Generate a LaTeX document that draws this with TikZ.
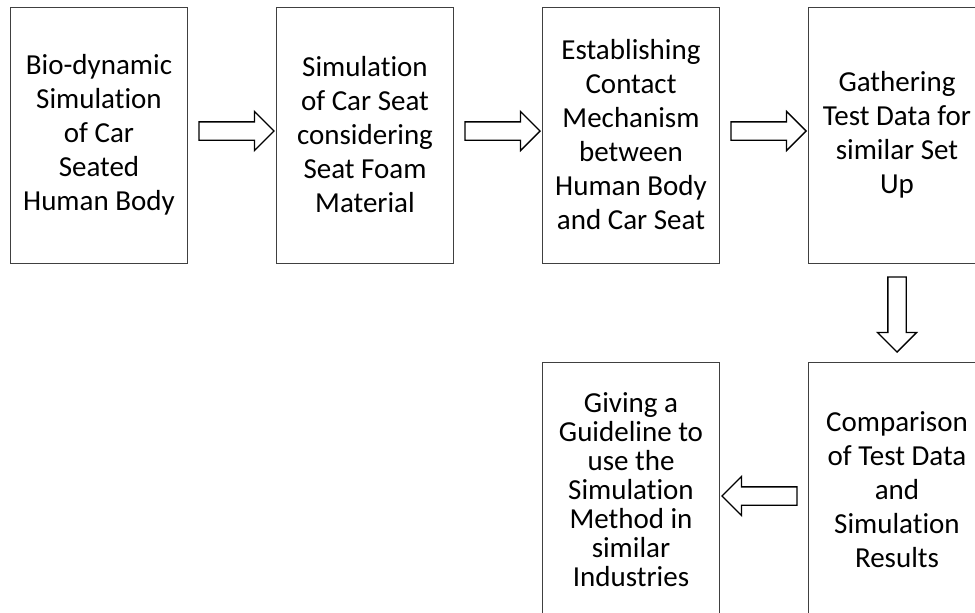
\documentclass[tikz,border=0pt]{standalone}
\usepackage{fontspec}
\setmainfont[Ligatures=NoCommon]{Carlito}
\usepackage{tikz}
\usetikzlibrary{positioning}
\usetikzlibrary{shapes.arrows}
\usetikzlibrary{calc}
\definecolor{frame}{gray}{0.25}
\tikzstyle{base}=[inner sep=0pt, outer sep=0pt]
\tikzstyle{stage}=[draw=frame, line width=0.9pt, minimum width=177pt, minimum height=256pt, align=center, font=\fontsize{29}{34}\selectfont]
\tikzstyle{flow}=[draw=black, line width=1.3pt, single arrow, single arrow head extend=10.5pt, minimum height=75pt, inner xsep=0pt, inner ysep=8.5pt]

\begin{document}
\begin{tikzpicture}[base, x=1pt, y=1pt]
    \path [use as bounding box] (0,0) rectangle (975,-613);
    \clip (0,0) rectangle (975,-613);
        % top row
        \node [stage] (bio) at (99,-135) {Bio-dynamic\\Simulation\\of Car\\Seated\\Human Body};
        \node [stage, right=89pt of bio] (seat) {Simulation\\of Car Seat\\considering\\Seat Foam\\Material};
        \node [stage, right=89pt of seat] (contact) {Establishing\\Contact\\Mechanism\\between\\Human Body\\and Car Seat};
        \node [stage, right=89pt of contact] (gather) {Gathering\\Test Data for\\similar Set\\Up};
        % bottom row
        \node [stage, below=99pt of gather] (compare) {Comparison\\of Test Data\\and\\Simulation\\Results};
        \node [stage, left=89pt of compare, font=\fontsize{29}{29}\selectfont] (guide) {Giving a\\Guideline to\\use the\\Simulation\\Method in\\similar\\Industries};
        % arrows
        \node [flow, yshift=4pt] (a1) at ($(bio.east)!0.5!(seat.west)$) {};
        \node [flow, yshift=4pt] (a2) at ($(seat.east)!0.5!(contact.west)$) {};
        \node [flow, yshift=4pt] (a3) at ($(contact.east)!0.5!(gather.west)$) {};
        \node [flow, rotate=-90, xshift=-2.5pt] (a4) at ($(gather.south)!0.5!(compare.north)$) {};
        \node [flow, rotate=180, yshift=6pt] (a5) at ($(compare.west)!0.5!(guide.east)$) {};
\end{tikzpicture}
\end{document}
